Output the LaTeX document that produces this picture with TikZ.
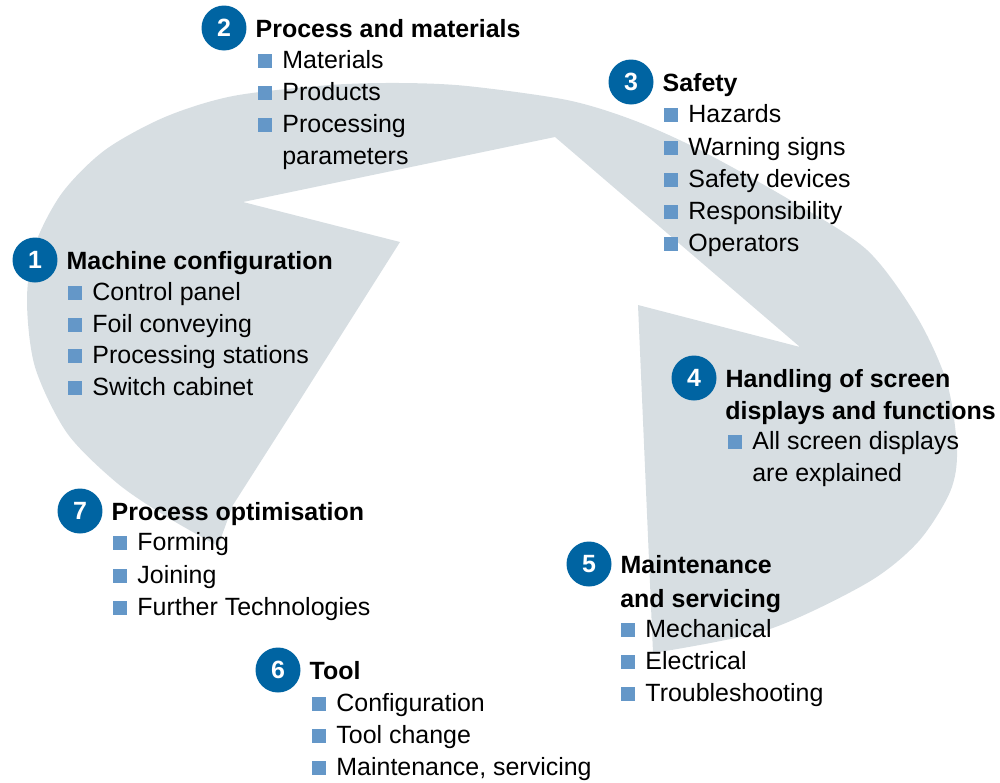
\documentclass[tikz,border=0pt]{standalone}
\usepackage{fontspec}
\setmainfont{Liberation Sans}
\usetikzlibrary{positioning}
\definecolor{bandgrey}{RGB}{215,222,226}
\definecolor{numblue}{RGB}{0,100,162}
\definecolor{sqblue}{RGB}{100,151,200}
\newcommand{\diafont}{\fontsize{14.2}{17}\selectfont}

\begin{document}
\begin{tikzpicture}[x=0.02cm,y=-0.02cm,
  num/.style={circle,fill=numblue,text=white,font=\diafont\bfseries,minimum size=0.9cm,inner sep=0pt},
  head/.style={anchor=west,font=\diafont\bfseries,text height=0.36cm,text depth=0pt,inner sep=0pt},
  sq/.style={fill=sqblue,minimum size=0.29cm,inner sep=0pt},
  itm/.style={font=\diafont,text height=0.28cm,text depth=0pt,inner sep=0pt},
  lbl/.style={itm,xshift=0.19cm}]
\useasboundingbox (0,0) rectangle (1000,782);

% grey band behind the topics
\fill[bandgrey] plot[smooth] coordinates {(218,546) (167,517) (117,483) (67,433) (35,367) (27,300) (35,245) (62,193) (105,150) (165,117) (233,96) (330,85) (400,83) (467,86) (567,100) (633,120) (700,150) (790,200) (867,250) (917,317) (947,383) (957,450) (950,492) (918,542) (867,583) (767,630) (653,653)}
  -- (638,305) -- (800,347) -- (555,137) -- (243,202) -- (400,242) -- (300,400) -- (233,505) -- cycle;

\node[num] (n1) at (35,260) {1};
\node[head,right=0.17cm of n1] (h1) {Machine configuration};
\node[sq,label={[lbl]right:Control panel}] (s11) at (75,293) {};
\node[sq,label={[lbl]right:Foil conveying}] (s12) at (75,325) {};
\node[sq,label={[lbl]right:Processing stations}] (s13) at (75,356) {};
\node[sq,label={[lbl]right:Switch cabinet}] (s14) at (75,388) {};

\node[num] (n2) at (224,28) {2};
\node[head,right=0.17cm of n2] (h2) {Process and materials};
\node[sq,label={[lbl]right:Materials}] (s21) at (265,61) {};
\node[sq,label={[lbl]right:Products}] (s22) at (265,93) {};
\node[sq,label={[lbl]right:Processing}] (s23) at (265,125) {};
\node[itm,anchor=west] (s23b) at (282,157) {parameters};

\node[num] (n3) at (631,82) {3};
\node[head,right=0.17cm of n3] (h3) {Safety};
\node[sq,label={[lbl]right:Hazards}] (s31) at (671,115) {};
\node[sq,label={[lbl]right:Warning signs}] (s32) at (671,148) {};
\node[sq,label={[lbl]right:Safety devices}] (s33) at (671,180) {};
\node[sq,label={[lbl]right:Responsibility}] (s34) at (671,212) {};
\node[sq,label={[lbl]right:Operators}] (s35) at (671,244) {};

\node[num] (n4) at (694,378) {4};
\node[head,right=0.17cm of n4] (h4) {Handling of screen};
\node[head] (h4b) at (725,410) {displays and functions};
\node[sq,label={[lbl]right:All screen displays}] (s41) at (735,442) {};
\node[itm,anchor=west] (s41b) at (752,474) {are explained};

\node[num] (n5) at (589,564) {5};
\node[head,right=0.17cm of n5] (h5) {Maintenance};
\node[head] (h5b) at (620,598) {and servicing};
\node[sq,label={[lbl]right:Mechanical}] (s51) at (628,630) {};
\node[sq,label={[lbl]right:Electrical}] (s52) at (628,662) {};
\node[sq,label={[lbl]right:Troubleshooting}] (s53) at (628,694) {};

\node[num] (n6) at (278,670) {6};
\node[head,right=0.17cm of n6] (h6) {Tool};
\node[sq,label={[lbl]right:Configuration}] (s61) at (319,704) {};
\node[sq,label={[lbl]right:Tool change}] (s62) at (319,736) {};
\node[sq,label={[lbl]right:Maintenance, servicing}] (s63) at (319,768) {};

\node[num] (n7) at (80,511) {7};
\node[head,right=0.17cm of n7] (h7) {Process optimisation};
\node[sq,label={[lbl]right:Forming}] (s71) at (120,543) {};
\node[sq,label={[lbl]right:Joining}] (s72) at (120,576) {};
\node[sq,label={[lbl]right:Further Technologies}] (s73) at (120,608) {};
\end{tikzpicture}
\end{document}
